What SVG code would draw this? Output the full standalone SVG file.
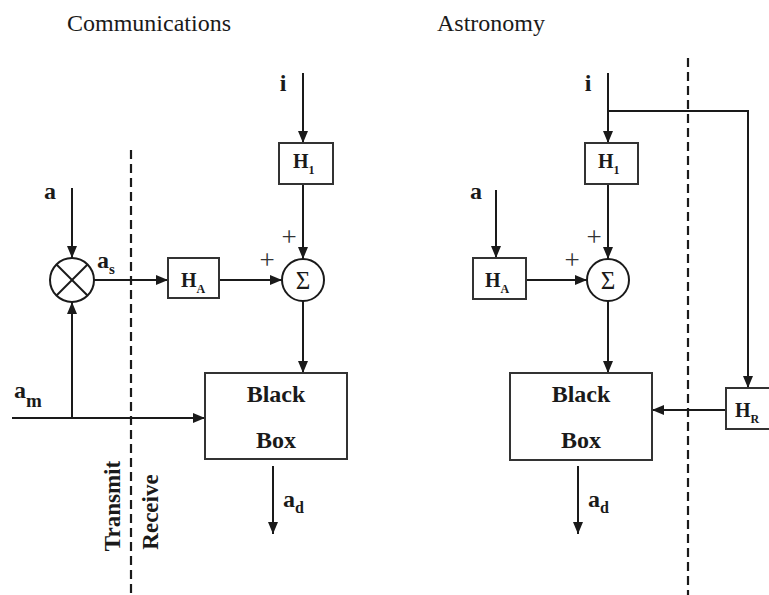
<svg xmlns="http://www.w3.org/2000/svg" width="769" height="595" viewBox="0 0 769 595">
<defs>
<marker id="arr" viewBox="0 0 12 10" refX="12" refY="5" markerWidth="12" markerHeight="10" markerUnits="userSpaceOnUse" orient="auto">
<path d="M0,0 L12,5 L0,10 z" fill="#1a1a1a"/>
</marker>
</defs>
<style>
.ln{stroke:#1a1a1a;stroke-width:2;fill:none}
.box{stroke:#333;stroke-width:2;fill:#fff}
.dash{stroke:#1a1a1a;stroke-width:2.2;stroke-dasharray:9,5;fill:none}
.t{font-family:"Liberation Serif","Times New Roman",serif;fill:#1a1a1a}
.b{font-weight:bold}
.title{font-size:24px}
.lab{font-size:24px;font-weight:bold}
.h{font-size:20px;font-weight:bold}
.sub{font-size:12px}
.plus{font-size:27px;fill:#333}
</style>
<rect width="769" height="595" fill="#fff"/>

<text class="t title" x="149" y="31" text-anchor="middle">Communications</text>
<text class="t title" x="491" y="31" text-anchor="middle">Astronomy</text>

<g id="dividers">
<line class="dash" x1="131" y1="150" x2="131" y2="595"/>
<line class="dash" x1="688" y1="58" x2="688" y2="595"/>
<text class="t b" font-size="23" transform="translate(120,506) rotate(-90)" text-anchor="middle">Transmit</text>
<text class="t b" font-size="23" transform="translate(158,512) rotate(-90)" text-anchor="middle">Receive</text>
</g>

<g id="connectors">
<line class="ln" x1="72" y1="188" x2="72" y2="258" marker-end="url(#arr)"/>
<line class="ln" x1="72" y1="418" x2="72" y2="302" marker-end="url(#arr)"/>
<line class="ln" x1="12" y1="418" x2="205" y2="418" marker-end="url(#arr)"/>
<line class="ln" x1="94" y1="280" x2="168" y2="280" marker-end="url(#arr)"/>
<line class="ln" x1="219" y1="280" x2="282" y2="280" marker-end="url(#arr)"/>
<line class="ln" x1="303" y1="73" x2="303" y2="143" marker-end="url(#arr)"/>
<line class="ln" x1="303" y1="184" x2="303" y2="259" marker-end="url(#arr)"/>
<line class="ln" x1="303" y1="301" x2="303" y2="373" marker-end="url(#arr)"/>
<line class="ln" x1="273" y1="466" x2="273" y2="534" marker-end="url(#arr)"/>

<line class="ln" x1="608" y1="73" x2="608" y2="143" marker-end="url(#arr)"/>
<polyline class="ln" points="608,111 748,111 748,388" marker-end="url(#arr)"/>
<line class="ln" x1="496" y1="190" x2="496" y2="258" marker-end="url(#arr)"/>
<line class="ln" x1="526" y1="280" x2="587" y2="280" marker-end="url(#arr)"/>
<line class="ln" x1="608" y1="184" x2="608" y2="259" marker-end="url(#arr)"/>
<line class="ln" x1="608" y1="301" x2="608" y2="373" marker-end="url(#arr)"/>
<line class="ln" x1="726" y1="410" x2="652" y2="410" marker-end="url(#arr)"/>
<line class="ln" x1="578" y1="466" x2="578" y2="534" marker-end="url(#arr)"/>
</g>

<g id="labels-left">
<text class="t lab" x="50" y="199" text-anchor="middle">a</text>
<text class="t lab" x="97" y="268">a<tspan font-size="15" dy="6">s</tspan></text>
<text class="t lab" x="14" y="398">a<tspan font-size="19" dy="9">m</tspan></text>
<text class="t lab" x="283" y="91" text-anchor="middle">i</text>
<text class="t plus" x="289" y="246" text-anchor="middle">+</text>
<text class="t plus" x="267" y="269" text-anchor="middle">+</text>
<text class="t lab" x="283" y="507">a<tspan font-size="16" dy="6">d</tspan></text>
</g>

<g id="labels-right">
<text class="t lab" x="476" y="199" text-anchor="middle">a</text>
<text class="t lab" x="588" y="91" text-anchor="middle">i</text>
<text class="t plus" x="594" y="246" text-anchor="middle">+</text>
<text class="t plus" x="572" y="269" text-anchor="middle">+</text>
<text class="t lab" x="588" y="507">a<tspan font-size="16" dy="6">d</tspan></text>
</g>

<g id="mult">
<circle class="ln" cx="72" cy="280" r="22" fill="#fff"/>
<line class="ln" x1="56.5" y1="264.5" x2="87.5" y2="295.5"/>
<line class="ln" x1="87.5" y1="264.5" x2="56.5" y2="295.5"/>
</g>

<g id="ha-left">
<rect class="box" x="168" y="258" width="51" height="40"/>
<text class="t h" x="181" y="287">H<tspan class="sub" dy="6">A</tspan></text>
</g>

<g id="h1-left">
<rect class="box" x="279" y="143" width="54" height="41"/>
<text class="t h" x="293" y="168">H<tspan class="sub" dy="6">1</tspan></text>
</g>

<g id="sum-left">
<circle class="ln" cx="303" cy="280" r="21" fill="#fff"/>
<text class="t" font-size="25" x="303" y="289" text-anchor="middle" fill="#444">Σ</text>
</g>

<g id="blackbox-left">
<rect class="box" x="205" y="373" width="142" height="86"/>
<text class="t lab" x="276" y="402" text-anchor="middle">Black</text>
<text class="t lab" x="276" y="448" text-anchor="middle">Box</text>
</g>

<g id="h1-right">
<rect class="box" x="585" y="143" width="53" height="41"/>
<text class="t h" x="598" y="168">H<tspan class="sub" dy="6">1</tspan></text>
</g>

<g id="ha-right">
<rect class="box" x="473" y="258" width="53" height="41"/>
<text class="t h" x="485" y="287">H<tspan class="sub" dy="6">A</tspan></text>
</g>

<g id="sum-right">
<circle class="ln" cx="608" cy="280" r="21" fill="#fff"/>
<text class="t" font-size="25" x="608" y="289" text-anchor="middle" fill="#444">Σ</text>
</g>

<g id="blackbox-right">
<rect class="box" x="510" y="373" width="142" height="87"/>
<text class="t lab" x="581" y="402" text-anchor="middle">Black</text>
<text class="t lab" x="581" y="448" text-anchor="middle">Box</text>
</g>

<g id="hr">
<rect class="box" x="726" y="388" width="60" height="41"/>
<text class="t h" x="735" y="417">H<tspan class="sub" dy="6">R</tspan></text>
</g>
</svg>
